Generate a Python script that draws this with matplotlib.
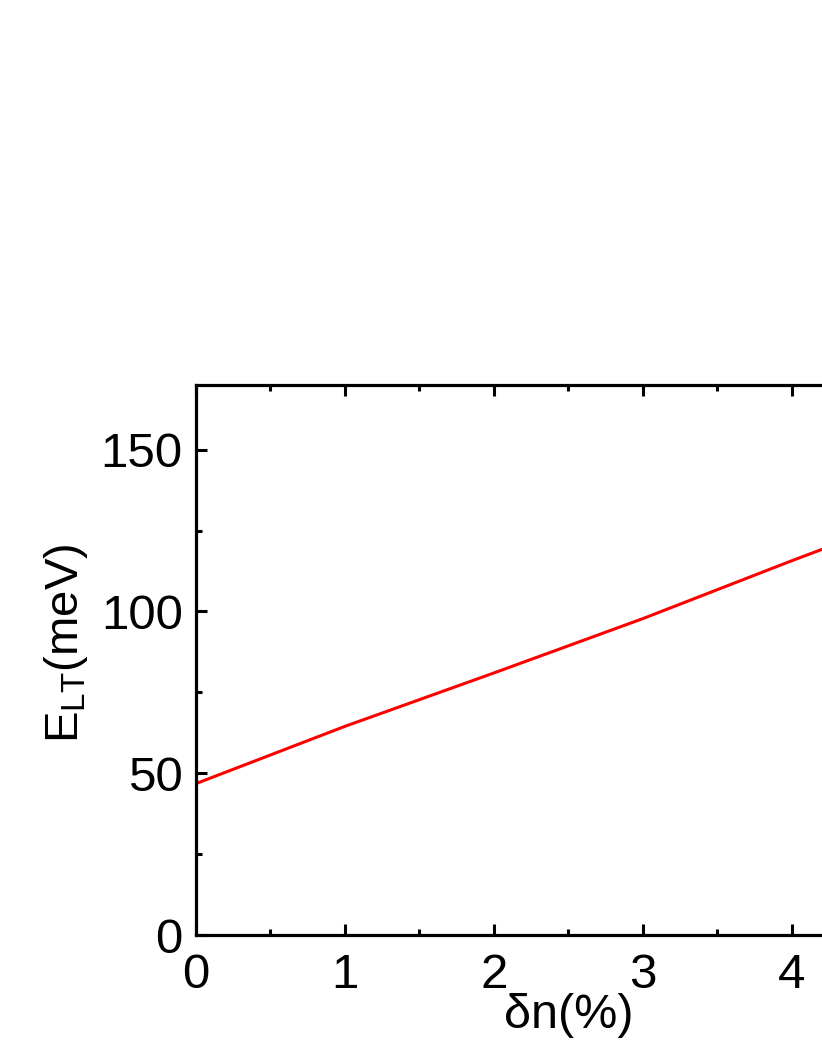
import matplotlib.pyplot as plt
from matplotlib.ticker import MultipleLocator

plt.rcParams['font.family'] = ['Liberation Sans', 'DejaVu Sans']
plt.rcParams['mathtext.fontset'] = 'custom'
plt.rcParams['mathtext.rm'] = 'Liberation Sans'

# values
dn = [0, 1, 2, 3, 4, 5]
e_lt = [46.8, 64.5, 81.0, 97.8, 115.7, 133.0]
xticks = [0, 1, 2, 3, 4]

fig = plt.figure(figsize=(8.22, 10.64), dpi=100)
# axis runs past the right edge of the figure, as in the reference
ax = fig.add_axes([0.2384, 0.1212, 0.9063, 0.5170])

ax.plot(dn, e_lt, color='#ff0000', linewidth=2.2)

ax.set_xlim(0, 5)
ax.set_ylim(0, 170)
ax.set_xticks(xticks)
ax.xaxis.set_minor_locator(MultipleLocator(0.5))
ax.yaxis.set_major_locator(MultipleLocator(50))
ax.yaxis.set_minor_locator(MultipleLocator(25))

ax.tick_params(which='both', direction='in', top=True, right=True, width=2.2)
ax.tick_params(which='major', length=8, labelsize=35.5)
ax.tick_params(axis='x', which='major', pad=13)
ax.tick_params(axis='y', which='major', pad=9.5)
ax.tick_params(which='minor', length=4.5)
for s in ax.spines.values():
	s.set_linewidth(2.3)

ax.set_xlabel('δn(%)', fontsize=35, labelpad=-3.5)
ax.set_ylabel('E$_{\\mathregular{LT}}$(meV)', fontsize=34)
ax.yaxis.set_label_coords(-0.142, 0.53)

fig.savefig('out.png', dpi=100)
